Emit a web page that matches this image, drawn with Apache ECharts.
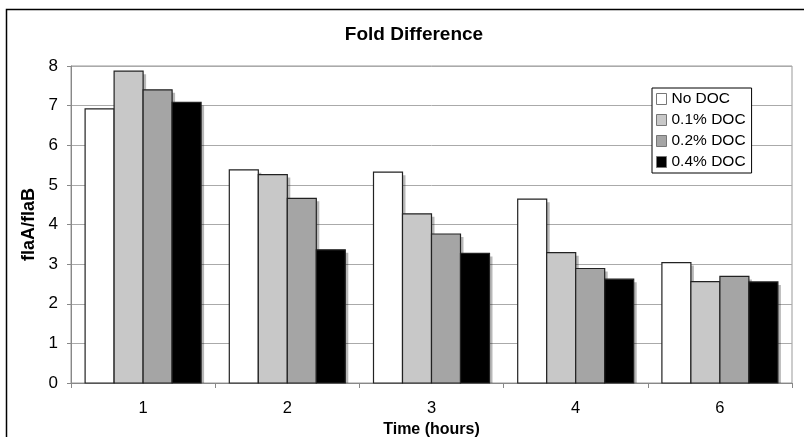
<!DOCTYPE html>
<html>
<head>
<meta charset="utf-8">
<script src="https://cdn.jsdelivr.net/npm/echarts@6/dist/echarts.min.js"></script>
<style>
html,body{margin:0;padding:0;background:#fff;}
#chart{width:804px;height:437px;}
</style>
</head>
<body>
<div id="chart"></div>
<script>
var categories = ['1', '2', '3', '4', '6'];
var seriesNames = ['No DOC', '0.1% DOC', '0.2% DOC', '0.4% DOC'];
var noDOC  = [6.92, 5.38, 5.32, 4.64, 3.04];
var doc01  = [7.87, 5.26, 4.27, 3.29, 2.56];
var doc02  = [7.40, 4.66, 3.76, 2.89, 2.69];
var doc04  = [7.08, 3.36, 3.27, 2.62, 2.55];
var yTicks = [0, 1, 2, 3, 4, 5, 6, 7, 8];

var values = [noDOC, doc01, doc02, doc04];
var fills = ['#ffffff', '#c8c8c8', '#a5a5a5', '#000000'];
var FONT = "'Liberation Sans', Arial, Helvetica, sans-serif";
var BAR_W = 29;
var SHADOW = 3;

var chart = echarts.init(document.getElementById('chart'), null, {renderer: 'canvas'});

function makeRender(sIdx) {
  return function (params, api) {
    var cat = api.value(0);
    var val = api.value(1);
    var base = api.coord([cat, 0]);
    var top = api.coord([cat, val]);
    var n = values.length;
    var x = base[0] - (n * BAR_W) / 2 + sIdx * BAR_W;
    var h = base[1] - top[1];
    return {
      type: 'group',
      children: [
        {
          type: 'rect',
          shape: {x: x + SHADOW, y: top[1] + SHADOW, width: BAR_W, height: Math.max(0, h - SHADOW)},
          style: {fill: 'rgba(0,0,0,0.28)'},
          z2: 0
        },
        {
          type: 'rect',
          shape: {x: x, y: top[1], width: BAR_W, height: h},
          style: {fill: fills[sIdx], stroke: '#222', lineWidth: 1.2},
          z2: 1
        }
      ]
    };
  };
}

var series = values.map(function (v, i) {
  return {
    name: seriesNames[i],
    type: 'custom',
    renderItem: makeRender(i),
    data: v.map(function (y, c) { return [c, y]; }),
    encode: {x: 0, y: 1},
    itemStyle: {color: fills[i], borderColor: '#777', borderWidth: 1},
    silent: true,
    animation: false
  };
});

chart.setOption({
  animation: false,
  backgroundColor: '#ffffff',
  title: {
    text: 'Fold Difference',
    left: 409,
    top: 20,
    textAlign: 'center',
    textStyle: {fontFamily: FONT, fontSize: 19, fontWeight: 'bold', color: '#000'}
  },
  graphic: [{
    type: 'rect',
    left: 4, top: 7,
    shape: {x: 0, y: 0, width: 900, height: 500},
    style: {fill: 'none', stroke: '#000', lineWidth: 1.5},
    silent: true
  }],
  legend: {
    orient: 'vertical',
    left: 652,
    top: 88,
    padding: [3, 6, 3, 4],
    itemWidth: 10,
    itemHeight: 11,
    itemGap: 5,
    itemTextGap: 5,
    backgroundColor: '#fff',
    borderColor: '#000',
    borderWidth: 1,
    icon: 'rect',
    data: seriesNames.map(function (n, i) {
      return {name: n, itemStyle: {color: fills[i], borderColor: '#777', borderWidth: 1}};
    }),
    textStyle: {fontFamily: FONT, fontSize: 15.5, color: '#000', lineHeight: 16}
  },
  grid: {
    left: 71, right: 12, top: 66, bottom: 54,
    show: true,
    borderColor: '#999',
    borderWidth: 1,
    containLabel: false,
    outerBoundsMode: 'none'
  },
  xAxis: {
    type: 'category',
    data: categories,
    name: 'Time (hours)',
    nameLocation: 'middle',
    nameGap: 20,
    nameTextStyle: {fontFamily: FONT, fontSize: 16, fontWeight: 'bold', color: '#000'},
    axisLine: {lineStyle: {color: '#888', width: 1}},
    axisTick: {show: true, length: 5, lineStyle: {color: '#888'}},
    axisLabel: {fontFamily: FONT, fontSize: 16.5, color: '#000', margin: 17},
    splitLine: {show: false}
  },
  yAxis: {
    type: 'value',
    min: yTicks[0],
    max: yTicks[yTicks.length - 1],
    interval: 1,
    name: 'flaA/flaB',
    nameLocation: 'middle',
    nameGap: 28,
    nameRotate: 90,
    nameTextStyle: {fontFamily: FONT, fontSize: 18, fontWeight: 'bold', color: '#000'},
    axisLine: {show: true, lineStyle: {color: '#888', width: 1}},
    axisTick: {show: true, length: 4, lineStyle: {color: '#888'}},
    axisLabel: {fontFamily: FONT, fontSize: 17, color: '#000', margin: 13},
    splitLine: {show: true, lineStyle: {color: '#aaa', width: 1}}
  },
  series: series
});
</script>
</body>
</html>
